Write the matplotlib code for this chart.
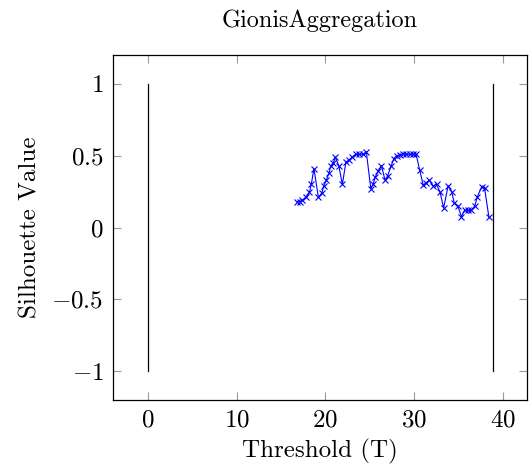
import numpy as np
import matplotlib.pyplot as plt

plt.rcParams["font.family"] = "serif"
plt.rcParams["font.serif"] = ["cmr10"]
plt.rcParams["mathtext.fontset"] = "cm"
plt.rcParams["axes.formatter.use_mathtext"] = True

# silhouette score per threshold
threshold = [16.8, 17.1, 17.4, 17.8, 18.2, 18.4, 18.7, 19.2, 19.6, 19.8,
             20.1, 20.4, 20.6, 20.9, 21.1, 21.5, 21.9, 22.3, 22.65, 23.0,
             23.4, 23.8, 24.2, 24.6, 25.1, 25.35, 25.6, 25.9, 26.3, 26.7,
             27.0, 27.4, 27.7, 28.0, 28.4, 28.7, 29.1, 29.5, 29.8, 30.2,
             30.6, 31.0, 31.3, 31.7, 32.1, 32.5, 32.9, 33.3, 33.8, 34.2,
             34.5, 34.9, 35.3, 35.65, 36.0, 36.4, 36.8, 37.1, 37.6, 37.9,
             38.4]
silhouette = [0.18, 0.18, 0.19, 0.21, 0.245, 0.30, 0.41, 0.21, 0.24, 0.29,
              0.33, 0.38, 0.43, 0.45, 0.49, 0.43, 0.30, 0.455, 0.47, 0.49,
              0.51, 0.51, 0.51, 0.525, 0.27, 0.30, 0.35, 0.39, 0.43, 0.33,
              0.36, 0.43, 0.48, 0.50, 0.505, 0.51, 0.51, 0.51, 0.51, 0.51,
              0.40, 0.295, 0.31, 0.33, 0.29, 0.30, 0.245, 0.135, 0.29, 0.25,
              0.17, 0.15, 0.075, 0.12, 0.12, 0.12, 0.15, 0.215, 0.285, 0.275,
              0.07]

# bounds of the threshold range
bound_x = [0, 38.8]
bound_y = [-1, 1]

fig = plt.figure(figsize=(5.29, 4.73), dpi=100)
ax = fig.add_axes([0.2142, 0.1543, 0.7820, 0.7294])

for bx in bound_x:
    ax.plot([bx, bx], bound_y, color="black", linewidth=0.9)

ax.plot(threshold, silhouette, color="blue", linewidth=0.8,
        marker="x", markersize=5, markeredgewidth=0.8)

ax.set_xlim(-3.88, 42.68)
ax.set_ylim(-1.2, 1.2)
ax.set_xticks([0, 10, 20, 30, 40])
ax.set_yticks([-1, -0.5, 0, 0.5, 1])
ax.set_yticklabels(["$-1$", "$-0.5$", "$0$", "$0.5$", "$1$"])
ax.set_xticklabels(["$0$", "$10$", "$20$", "$30$", "$40$"])
ax.tick_params(direction="in", length=6, width=0.8, color="#999999",
               top=True, right=True, labelsize=18, pad=7)
for s in ax.spines.values():
    s.set_linewidth(0.9)

ax.set_xlabel("Threshold (T)", fontsize=18, labelpad=5)
ax.set_ylabel("Silhouette Value", fontsize=18, labelpad=7)
ax.set_title("GionisAggregation", fontsize=17.5, pad=20)

fig.savefig("out.png", dpi=100)
